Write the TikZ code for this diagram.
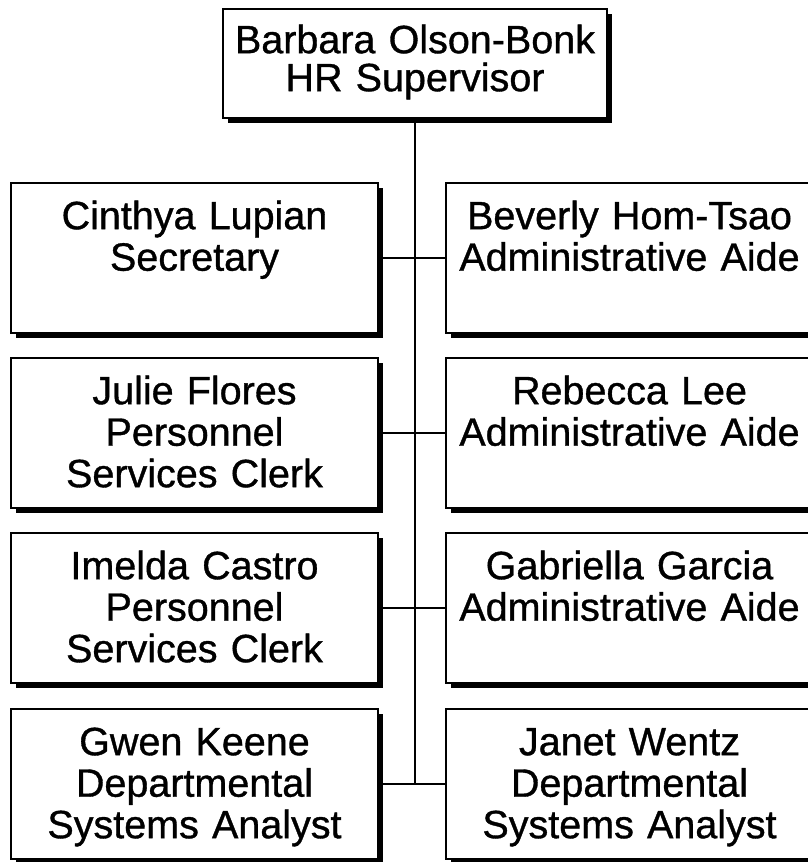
\documentclass[tikz,border=0pt]{standalone}
\usepackage{fontspec}
\setmainfont{Liberation Sans}[FakeBold=0.9]
\usetikzlibrary{positioning,shadows}

\begin{document}
\begin{tikzpicture}[x=1pt,y=-1pt,
  card/.style={draw, line width=2.4pt, fill=white,
    general shadow={fill=black, shadow xshift=4.5pt, shadow yshift=-4.5pt},
    anchor=north, align=center, inner xsep=3.5pt, inner ysep=0pt,
    text width=360pt, text height=46pt, text depth=104pt,
    font=\fontsize{39.5}{41.5}\selectfont},
  topcard/.style={card, text width=377pt, text height=44pt, text depth=65pt,
    font=\fontsize{39.5}{38}\selectfont},
  link/.style={line width=2pt}]
\useasboundingbox (0,0) rectangle (808,862);

% Supervisor
\node[topcard] (boss) at (415,8) {Barbara Olson-Bonk\\HR Supervisor};

% Left column
\node[card] (l1) at (194.5,182) {Cinthya Lupian\\Secretary};
\node[card] (l2) at (194.5,357) {Julie Flores\\Personnel\\Services Clerk};
\node[card] (l3) at (194.5,532) {Imelda Castro\\Personnel\\Services Clerk};
\node[card] (l4) at (194.5,708) {Gwen Keene\\Departmental\\Systems Analyst};

% Right column
\node[card] (r1) at (629.5,182) {Beverly Hom-Tsao\\Administrative Aide};
\node[card] (r2) at (629.5,357) {Rebecca Lee\\Administrative Aide};
\node[card] (r3) at (629.5,532) {Gabriella Garcia\\Administrative Aide};
\node[card] (r4) at (629.5,708) {Janet Wentz\\Departmental\\Systems Analyst};

% Connectors
\draw[link] (boss) -- (boss |- l4.east);
\draw[link] (l1) -- (r1); \draw[link] (l2) -- (r2);
\draw[link] (l3) -- (r3); \draw[link] (l4) -- (r4);
\end{tikzpicture}
\end{document}
